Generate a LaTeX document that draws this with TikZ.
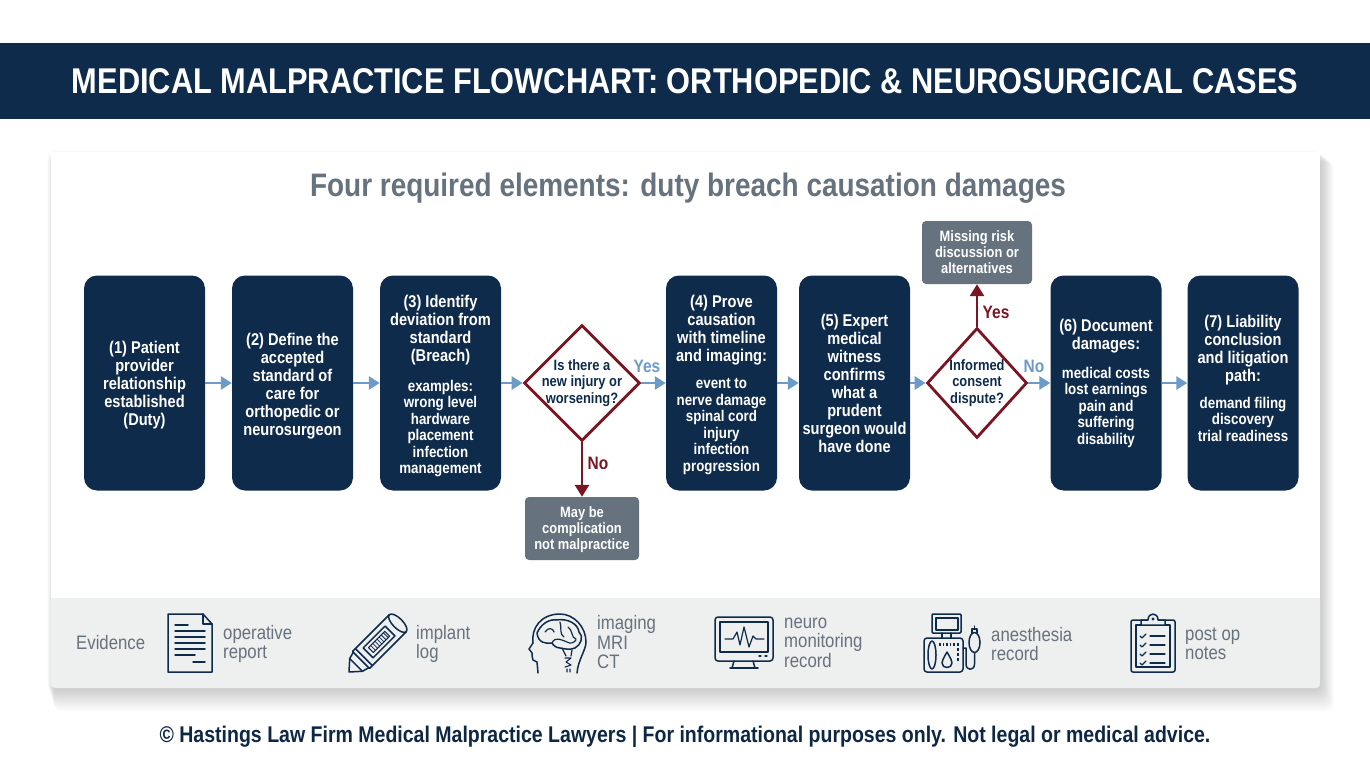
\documentclass[tikz,border=0pt]{standalone}
\usepackage{fontspec}
\setmainfont[FakeStretch=0.86]{Liberation Sans}
\usetikzlibrary{arrows.meta,shapes.geometric}
\definecolor{navy}{HTML}{0F2B4C}
\definecolor{wine}{HTML}{7B1522}
\definecolor{flow}{HTML}{6C9BC8}
\definecolor{slate}{HTML}{66727E}
\definecolor{band}{HTML}{EEEFEF}
\newcommand{\bodytext}{\fontsize{15.5}{16.5}\selectfont}
\newcommand{\bl}{\\[-1.5pt]\bodytext}
\newcommand{\dn}[1]{\rule{0pt}{#1pt}}
\tikzset{
    BX1/.style ={rectangle,rounded corners=13pt,fill=navy,text=white,align=center,minimum width=121pt,minimum height=215pt,inner sep=0pt,font=\bfseries\fontsize{17}{18}\selectfont},
    BX2/.style ={BX1,minimum width=111pt},
    DM/.style ={diamond,draw=wine,line width=2.8pt,fill=white,inner sep=0pt,minimum width=116pt,minimum height=116pt},
    DT/.style ={text=navy,align=center,font=\bfseries\fontsize{15}{16.5}\selectfont},
    GR/.style ={rectangle,rounded corners=4pt,fill=slate,text=white,align=center,inner sep=0pt,font=\bfseries\fontsize{15}{16}\selectfont},
    AB/.style ={draw=flow,line width=2.8pt,-{Triangle[length=11pt,width=13pt]}},
    AR/.style ={draw=wine,line width=2.8pt,-{Triangle[length=12pt,width=14pt]}},
    EV/.style ={text=slate,anchor=west,align=left,inner sep=0pt,font=\fontsize{19.5}{19.5}\selectfont},
    IC/.style ={draw=navy,line width=1.5pt,line join=round,line cap=round},
    YN/.style ={font=\bfseries\fontsize{18}{18}\selectfont,inner sep=0pt}}

\begin{document}
\begin{tikzpicture}[x=1pt,y=-1pt]
        \useasboundingbox (0,0) rectangle (1370,765);
        \fill[white] (0,0) rectangle (1370,765);
        % banner
        \node[rectangle,fill=navy,text=white,minimum width=1370pt,minimum height=76pt,inner sep=0pt,font=\bfseries\fontsize{35.8}{36}\selectfont] (title) at(685,81){MEDICAL MALPRACTICE FLOWCHART: ORTHOPEDIC \& NEUROSURGICAL CASES};
        % panel
        \foreach \i in {1,...,24}
            \fill[black,opacity=0.009,rounded corners=8pt] (47+\i*0.3,150+\i*0.5) rectangle (1321+\i*0.55,689+\i*0.95);
        \fill[white] (51,152) rectangle (1320,598);
        \fill[band,rounded corners=4pt] (51,598) rectangle (1320,688);
        \fill[band] (51,598) rectangle (1320,610);
        \node[text=slate,font=\bfseries\fontsize{32.5}{33}\selectfont] (head) at(688,188){Four required elements: duty breach causation damages};
        % flow
        \node[BX1] (1) at(144.5,383){\dn{16.5}(1) Patient\\provider\\relationship\\established\\(Duty)};
        \node[BX1] (2) at(292.5,383){\dn{18.5}(2) Define the\\accepted\\standard of\\care for\\orthopedic or\\neurosurgeon};
        \node[BX1] (3) at(440.5,383){\dn{18.5}(3) Identify\\deviation from\\standard\\(Breach)\\[12pt]\bodytext examples:\bl wrong level\bl hardware\bl placement\bl infection\bl management};
        \node[DM,label={[DT]center:Is there a\\new injury or\\worsening?}] (4) at(582,383){};
        \node[BX2] (5) at(721.5,383){\dn{16.5}(4) Prove\\causation\\with timeline\\and imaging:\\[9pt]\bodytext event to\bl nerve damage\bl spinal cord\bl injury\bl infection\bl progression};
        \node[BX2] (6) at(854.5,383){(5) Expert\\medical\\witness\\confirms\\what a\\prudent\\surgeon would\\have done};
        \node[DM,minimum width=100pt,minimum height=110pt,aspect=0.91,label={[DT]center:Informed\\consent\\dispute?}] (7) at(977,383){};
        \node[BX2] (8) at(1106,383){(6) Document\\damages:\\[11pt]\bodytext medical costs\bl lost earnings\bl pain and\bl suffering\bl disability};
        \node[BX2] (9) at(1243,383){(7) Liability\\conclusion\\and litigation\\path:\\[9pt]\bodytext demand filing\bl discovery\bl trial readiness\rule[-10pt]{0pt}{10pt}};
        \node[GR,minimum width=114pt,minimum height=63pt] (10) at(582,528.5){\dn{13}May be\\complication\\not malpractice};
        \node[GR,minimum width=110pt,minimum height=63pt] (11) at(977,252.5){Missing risk\\discussion or\\alternatives};
        \draw[AB] (1) --(2);
        \draw[AB] (2) --(3);
        \draw[AB] (3) --(4);
        \draw[AB] (4) --(5);
        \draw[AB] (5) --(6);
        \draw[AB] (6) --(7);
        \draw[AB] (7) --(8);
        \draw[AB] (8) --(9);
        \draw[AR] (4) --(10);
        \draw[AR] (7) --(11);
        \node[YN,text=flow] (y1) at(647,366){Yes};
        \node[YN,text=wine] (n1) at(598,463){No};
        \node[YN,text=wine] (y2) at(996,312){Yes};
        \node[YN,text=flow] (n2) at(1034,366){No};
        % evidence band
        \node[EV] (e0) at(76,642.5){Evidence};
        \node[EV] (e1) at(223,644){operative\\report};
        \node[EV] (e2) at(416,644){implant\\log};
        \node[EV] (e3) at(597,642.5){imaging\\MRI\\CT};
        \node[EV] (e4) at(784,642.5){neuro\\monitoring\\record};
        \node[EV] (e5) at(991,644){anesthesia\\record};
        \node[EV] (e6) at(1185,644){post op\\notes};
        % operative report
        \draw[IC] (168,614) -- (203,614) -- (212,624) -- (212,672) -- (168,672) -- cycle;
        \draw[IC] (203,614) -- (203,624) -- (212,624);
        \draw[IC] (175,625) -- (188,625);
        \foreach \y in {631,637,643,649} \draw[IC] (175,\y) -- (205,\y);
        \draw[IC] (175,655) -- (195,655);
        \draw[IC] (193,662) -- (205,662);
        % implant log
        \begin{scope}[shift={(378,643)},rotate=45]
            \draw[IC] (-20,-12) -- (28,-12);
            \draw[IC] (-20,12) -- (28,12);
            \draw[IC] (28,0) ellipse [x radius=5,y radius=12];
            \draw[IC] (-20,-12) -- (-20,12);
            \draw[IC] (-24,-12) -- (-24,12) -- (-20,12);
            \draw[IC] (-24,-12) -- (-20,-12);
            \draw[IC] (-24,-11) -- (-31,-9) -- (-41,0) -- (-31,9) -- (-24,11);
            \draw[IC] (-31,-9) -- (-31,9);
            \draw[IC] (-14,-7) rectangle (17,7);
            \draw[IC,line width=1.1pt] (-10,-3.5) rectangle (13,3.5);
            \foreach \x in {-7,-4,-1,2,5,8,11} \draw[draw=navy,line width=0.8pt] (\x,-3.5) -- (\x,3.5);
        \end{scope}
        % imaging
        \draw[IC] (538,673) -- (537,662) -- (533,660) .. controls (531,657) and (533,655) .. (532,653) -- (529,649) -- (533,643) .. controls (531,628) and (541,614) .. (560,614) .. controls (574,614) and (586,627) .. (586,642) .. controls (586,650) and (578,660) .. (577,673);
        \draw[IC] (537,633) .. controls (541,624) and (549,619) .. (556,620) .. controls (568,618) and (578,624) .. (579,632) .. controls (584,636) and (581,645) .. (575,648) .. controls (570,650) and (565,649) .. (560,648) .. controls (556,648) and (553,645) .. (552,643) .. controls (546,644) and (538,643) .. (537,633);
        \draw[IC,line width=1.2pt] (545,632) .. controls (548,627) and (553,628) .. (554,632) (560,622) .. controls (562,628) and (559,634) .. (564,637) (568,627) .. controls (573,630) and (571,638) .. (576,639) (552,643) .. controls (555,636) and (562,640) .. (567,642) .. controls (570,644) and (574,643) .. (576,640);
        \draw[IC,line width=1.2pt] (562,648) -- (566,656) (572,650) -- (571,656);
        \draw[IC,line width=1.1pt] (565,658) -- (571,658) -- (566,662) -- (571,665) -- (565,667) (567,669) -- (567,672) (570,669) -- (570,672);
        % neuro monitoring
        \draw[IC,rounded corners=3pt] (715,617) rectangle (773,661);
        \draw[IC] (720,622) rectangle (768,652);
        \draw[IC,line width=1.2pt] (725,639) -- (733,639) -- (737,632) -- (740,645) -- (744,627) -- (749,647) -- (753,636) -- (756,639) -- (764,639);
        \draw[IC] (734,661) -- (732,668) (753,661) -- (755,668);
        \draw[IC] (730,668) -- (758,668);
        \draw[IC,line width=1.2pt] (759,656) -- (761,656) (765,656) -- (767,656);
        % anesthesia
        \draw[IC,rounded corners=1pt] (932,614) rectangle (961,633);
        \draw[IC] (936,618) rectangle (958,630);
        \draw[IC] (942,633) -- (942,638) (951,633) -- (951,638);
        \draw[IC,rounded corners=3pt] (924,638) rectangle (963,672);
        \draw[IC] (932,655) ellipse [x radius=4,y radius=14];
        \draw[IC] (947,652) .. controls (943,659) and (942,661) .. (942,663) .. controls (942,669) and (952,669) .. (952,663) .. controls (952,661) and (951,659) .. (947,652);
        \foreach \x in {940,943.5,947,950.5,954} \draw[draw=navy,line width=1.2pt] (\x,643) -- (\x,646);
        \foreach \y in {643,648,653,658} \draw[draw=navy,line width=1.4pt] (958,\y) -- (958,\y+2.5);
        \draw[IC] (974.5,642.5) ellipse [x radius=5.5,y radius=10];
        \draw[IC] (972,633) -- (972,629) -- (977,629) -- (977,633) (974.5,629) -- (974.5,626);
        \draw[IC] (974.5,652.5) -- (974.5,664) .. controls (974.5,671) and (966,671) .. (966,664) -- (966,648) -- (963,648);
        % post op notes
        \draw[IC,rounded corners=2pt] (1131,620) rectangle (1175,672);
        \draw[IC] (1136,625) rectangle (1170,667);
        \draw[IC,fill=band] (1141,625) -- (1141,620) -- (1148,620) .. controls (1148,612) and (1158,612) .. (1158,620) -- (1165,620) -- (1165,625) -- cycle;
        \fill[navy] (1153,619) circle (1.6pt);
        \foreach \y in {636,645,654,663} {
            \draw[IC,line width=1.2pt] (1140,\y) -- (1142,\y+2) -- (1146,\y-2);
            \draw[IC,line width=1.2pt] (1150,\y) -- (1165,\y);
        }
        % footer
        \node[text=navy!90!black,font=\bfseries\fontsize{22.7}{23}\selectfont] (foot) at(685,737){© Hastings Law Firm Medical Malpractice Lawyers | For informational purposes only. Not legal or medical advice.};
    \end{tikzpicture}
\end{document}
